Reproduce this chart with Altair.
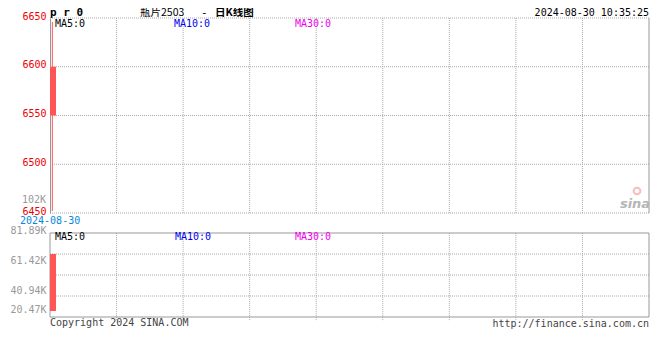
import altair as alt
import pandas as pd

# ---------------- data ----------------
dates = ["2024-08-30"]
opens = [6550]
closes = [6600]
highs = [6646]
lows = [6452]
volumes = [61420]
price_ticks = [6450, 6500, 6550, 6600, 6650]
vol_tick_labels = [20.47, 40.94, 61.42, 81.89]   # thousands
grid_cols = [10, 20, 30, 40, 50, 60, 70, 80]
vol_inner = [1, 2, 3]
vol_edges = [0, 4]

FONT = "DejaVu Sans Mono"
CJK = "Noto Sans CJK SC"
UP = "#ff5555"
GRID = "#aaaaaa"
FRAME = "#999999"

candles = pd.DataFrame({
    "date": dates, "idx": list(range(len(dates))),
    "open": opens, "close": closes, "high": highs, "low": lows, "vol": volumes,
})
candles["x0"] = candles["idx"]
candles["x1"] = candles["idx"] + 0.9
candles["mid"] = candles["idx"] + 0.35

gdf = pd.DataFrame({"gx": grid_cols})

xscale = alt.Scale(domain=[0, 90], nice=False, zero=False)
pscale = alt.Scale(domain=[6450, 6650], range=[195, 0], nice=False, zero=False)
vscale = alt.Scale(domain=[0, 81890], range=[293, 217], nice=False, zero=False)
fscale = alt.Scale(domain=[0, 4], range=[299, 215], nice=False, zero=False)
lscale = alt.Scale(domain=[20.47, 81.89], range=[291.5, 212.3], nice=False, zero=False)

price_axis = alt.Axis(values=price_ticks, orient="left", grid=False, domain=True,
                      domainColor=FRAME, ticks=False, labelColor="#ee0000", labelFont=FONT,
                      labelFontSize=10, labelPadding=4, labelBaseline="alphabetic",
                      labelOffset=1, labelOverlap=False, format="d", title=None)

# ---------------- price panel ----------------
p_hgrid = alt.Chart(pd.DataFrame({"py": price_ticks})).mark_rule(
    color=GRID, strokeDash=[1, 1]).encode(
    y=alt.Y("py:Q", scale=pscale, axis=price_axis),
    x=alt.X(datum=0, scale=xscale, axis=None),
    x2=alt.X2(datum=90),
)
p_vgrid = alt.Chart(gdf).mark_rule(color=GRID, strokeDash=[1, 1]).encode(
    x=alt.X("gx:Q", scale=xscale, axis=None),
    y=alt.Y(datum=6450, scale=pscale, axis=price_axis),
    y2=alt.Y2(datum=6650),
)
p_right = alt.Chart(pd.DataFrame({"a": [0]})).mark_rule(color=FRAME).encode(
    x=alt.X(datum=90, scale=xscale, axis=None),
    y=alt.Y(datum=6450, scale=pscale, axis=price_axis),
    y2=alt.Y2(datum=6650),
)
wick = alt.Chart(candles).mark_rule(color=UP, strokeWidth=1).encode(
    x=alt.X("mid:Q", scale=xscale, axis=None),
    y=alt.Y("high:Q", scale=pscale, axis=price_axis),
    y2="low:Q",
)
body = alt.Chart(candles).mark_rect(color=UP).encode(
    x=alt.X("x0:Q", scale=xscale, axis=None),
    x2="x1:Q",
    y=alt.Y("open:Q", scale=pscale, axis=price_axis),
    y2="close:Q",
)
price = alt.layer(p_hgrid, p_vgrid, p_right, wick, body)

# ---------------- volume frame ----------------
v_hgrid = alt.Chart(pd.DataFrame({"q": vol_inner})).mark_rule(
    color=GRID, strokeDash=[1, 1]).encode(
    y=alt.Y("q:Q", scale=fscale, axis=None),
    x=alt.X(datum=0, scale=xscale, axis=None),
    x2=alt.X2(datum=90),
)
v_vgrid = alt.Chart(gdf).mark_rule(color=GRID, strokeDash=[1, 1]).encode(
    x=alt.X("gx:Q", scale=xscale, axis=None),
    y=alt.Y(datum=-0.15, scale=fscale, axis=None),
    y2=alt.Y2(datum=4),
)
v_tb = alt.Chart(pd.DataFrame({"r": vol_edges})).mark_rule(color=FRAME).encode(
    y=alt.Y("r:Q", scale=fscale, axis=None),
    x=alt.X(datum=0, scale=xscale, axis=None),
    x2=alt.X2(datum=90),
)
v_lr = alt.Chart(pd.DataFrame({"c": [0, 90]})).mark_rule(color=FRAME).encode(
    x=alt.X("c:Q", scale=xscale, axis=None),
    y=alt.Y(datum=0, scale=fscale, axis=None),
    y2=alt.Y2(datum=4),
)
frame = alt.layer(v_hgrid, v_vgrid, v_tb, v_lr)

# ---------------- volume bars ----------------
vbar = alt.Chart(candles).mark_rect(color=UP).encode(
    x=alt.X("x0:Q", scale=xscale, axis=None),
    x2="x1:Q",
    y=alt.Y("vol:Q", scale=vscale, axis=None),
    y2=alt.Y2(datum=0),
)

# ---------------- volume labels ----------------
vlab = alt.Chart(pd.DataFrame({"v": vol_tick_labels})).mark_point(opacity=0).encode(
    x=alt.X(datum=0, scale=xscale, axis=None),
    y=alt.Y("v:Q", scale=lscale,
            axis=alt.Axis(values=vol_tick_labels, orient="left", grid=False, domain=False,
                          ticks=False, labelColor="#999999", labelFont=FONT, labelFontSize=10,
                          labelPadding=4, labelBaseline="middle", labelOverlap=False,
                          labelOffset={"condition": [
                              {"test": "datum.value > 60 && datum.value < 70", "value": 4},
                              {"test": "datum.value > 40 && datum.value < 50", "value": 7},
                          ], "value": 0},
                          labelExpr="format(datum.value, '.2f') + 'K'", title=None)),
)


def txt(s, x, y, color="#000000", align="left", size=10, font=FONT, weight="normal", style="normal"):
    return alt.Chart(pd.DataFrame({"t": [s]})).mark_text(
        align=align, baseline="middle", color=color, fontSize=size, font=font,
        fontWeight=weight, fontStyle=style,
    ).encode(text="t:N", x=alt.value(x), y=alt.value(y))


texts = [
    txt("p r 0", 0, -5, weight="bold", size=11),
    txt("瓶片2503", 90, -5, font=CJK, size=10.5),
    txt("-", 151, -5, size=11),
    txt("日K线图", 165, -5, font=CJK, size=10.5, weight="bold"),
    txt("2024-08-30 10:35:25", 599, -5, align="right"),
    txt("MA5:0", 5, 6),
    txt("MA10:0", 124, 6, color="#0000ee"),
    txt("MA30:0", 245, 6, color="#ee00ee"),
    txt("102K", -4, 182, color="#999999", align="right"),
    txt("2024-08-30", -30, 203, color="#0a88d8"),
    txt("MA5:0", 5, 219),
    txt("MA10:0", 125, 219, color="#0000ee"),
    txt("MA30:0", 245, 219, color="#ee00ee"),
    txt("Copyright 2024 SINA.COM", 0, 305, color="#444444"),
    txt("http://finance.sina.com.cn", 599, 306, color="#444444", align="right"),
    txt("sina", 585, 186, color="#b5b5b5", align="center", size=13, font="DejaVu Sans",
        weight="bold", style="italic"),
]
eye = alt.Chart(pd.DataFrame({"a": [0]})).mark_point(
    shape="circle", filled=False, color="#f4a0a0", strokeWidth=2, size=45
).encode(x=alt.value(587), y=alt.value(173))

chart = alt.layer(price, frame, vbar, vlab, eye, *texts).resolve_scale(
    y="independent"
).properties(
    width=599, height=299,
    autosize=alt.AutoSizeParams(type="none"),
    padding={"left": 42, "top": 10, "right": 3, "bottom": 35},
    background="white",
).configure_view(stroke=None)

chart.save("out.html", embed_options={"renderer": "svg", "actions": False})
